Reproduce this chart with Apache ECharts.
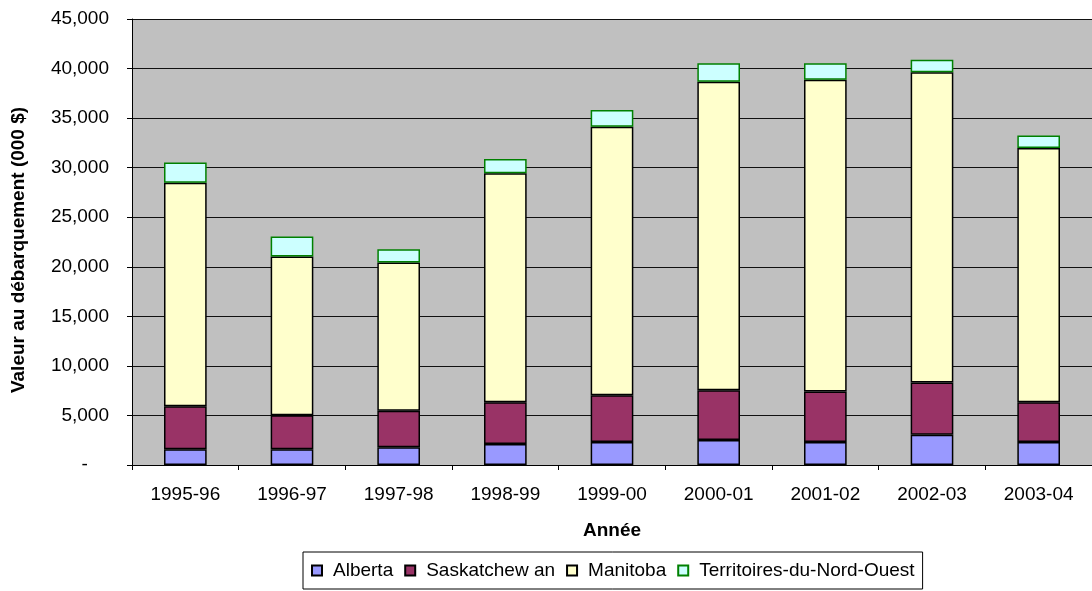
<!DOCTYPE html>
<html>
<head>
<meta charset="utf-8">
<script src="https://cdn.jsdelivr.net/npm/echarts@6/dist/echarts.min.js"></script>
<style>
html,body{margin:0;padding:0;background:#fff;}
#chart{width:1092px;height:591px;}
</style>
</head>
<body>
<div id="chart"></div>
<script>
var categories = ['1995-96','1996-97','1997-98','1998-99','1999-00','2000-01','2001-02','2002-03','2003-04'];
var alberta      = [1580, 1580, 1780, 2110, 2320, 2520, 2320, 3050, 2320];
var saskatchewan = [4360, 3450, 3690, 4230, 4730, 5030, 5100, 5280, 4020];
var manitoba     = [22550, 16010, 14970, 23090, 27080, 31110, 31440, 31300, 25640];
var tno          = [2040, 2010, 1340, 1450, 1680, 1880, 1680, 1270, 1270];
var seriesNames = ['Alberta', 'Saskatchew an', 'Manitoba', 'Territoires-du-Nord-Ouest'];
var yTicks = [0, 5000, 10000, 15000, 20000, 25000, 30000, 35000, 40000, 45000];

var FONT = '"Liberation Sans", Arial, sans-serif';
var chart = echarts.init(document.getElementById('chart'), null, {renderer:'canvas'});

function bar(name, data, color, border) {
  return {
    name: name, type: 'bar', stack: 'total', data: data,
    barCategoryGap: '60%',
    itemStyle: {color: color, borderColor: border, borderWidth: 1.5},
    emphasis: {disabled: true}
  };
}

chart.setOption({
  animation: false,
  textStyle: {fontFamily: FONT},
  grid: {left: 132, right: -6, top: 19, bottom: 126, show: true, backgroundColor: '#C0C0C0', borderWidth: 0, containLabel: false},
  xAxis: {
    type: 'category', data: categories,
    name: 'Année', nameLocation: 'middle', nameGap: 56,
    nameTextStyle: {fontFamily: FONT, fontSize: 19, fontWeight: 'bold', color: '#000'},
    axisLine: {lineStyle: {color: '#000', width: 1}},
    axisTick: {show: true, length: 5, alignWithLabel: false, lineStyle: {color: '#000'}},
    axisLabel: {fontFamily: FONT, fontSize: 19, color: '#000', margin: 20, interval: 0}
  },
  yAxis: {
    type: 'value', min: yTicks[0], max: yTicks[yTicks.length-1], interval: 5000,
    axisLine: {show: true, lineStyle: {color: '#000', width: 1}},
    axisTick: {show: true, length: 5, lineStyle: {color: '#000'}},
    splitLine: {show: true, lineStyle: {color: '#111', width: 1}},
    axisLabel: {
      fontFamily: FONT, fontSize: 19, color: '#000', margin: 23,
      formatter: function (v) { return v === 0 ? '-    ' : v.toLocaleString('en-US'); }
    }
  },
  legend: {
    data: seriesNames,
    left: 303, top: 552,
    orient: 'horizontal',
    borderColor: '#000', borderWidth: 1,
    padding: [9, 8, 9, 8],
    itemGap: 11, itemWidth: 10, itemHeight: 10,
    icon: 'rect',
    selectedMode: false,
    textStyle: {fontFamily: FONT, fontSize: 19, color: '#000', padding: [0, 0, 0, 6]}
  },
  graphic: [{
    type: 'text',
    x: 19, y: 250, rotation: Math.PI / 2,
    style: {text: 'Valeur au débarquement (000 $)', font: 'bold 19px ' + FONT, fill: '#000', textAlign: 'center', textVerticalAlign: 'middle'}
  }],
  series: [
    bar(seriesNames[0], alberta, '#9999FF', '#000'),
    bar(seriesNames[1], saskatchewan, '#993366', '#000'),
    bar(seriesNames[2], manitoba, '#FFFFCC', '#000'),
    bar(seriesNames[3], tno, '#CCFFFF', '#008000')
  ]
});
</script>
</body>
</html>
